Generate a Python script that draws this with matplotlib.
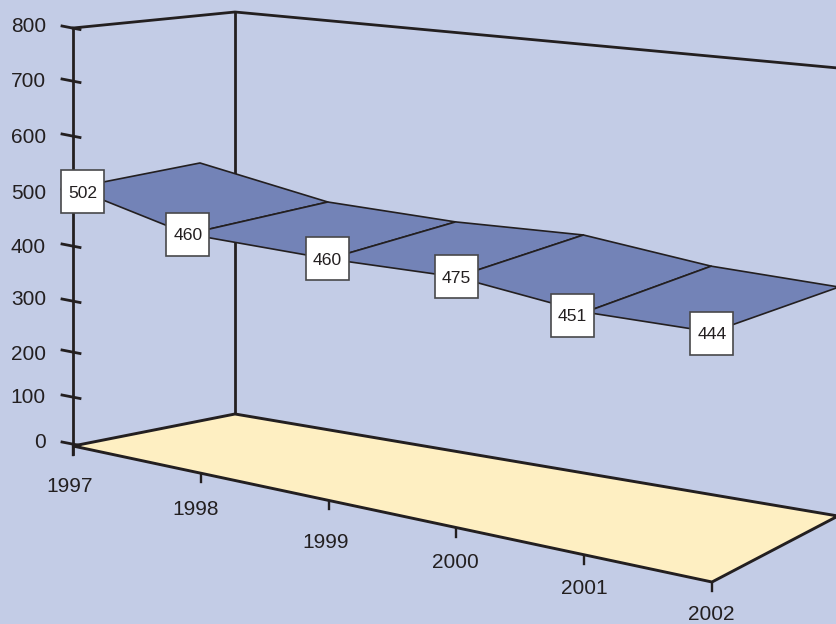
import numpy as np
import matplotlib
matplotlib.use('Agg')
import matplotlib.pyplot as plt
from matplotlib.patches import Polygon, Rectangle

years = ['1997', '1998', '1999', '2000', '2001', '2002']
values = [502, 460, 460, 475, 451, 444]
value_ticks = [0, 100, 200, 300, 400, 500, 600, 700, 800]

# chart geometry in pixels (y grows downwards)
left_x, right_x = 73, 712
floor_left_y, floor_right_y = 446, 582
back_left = (235, 414)
back_right = (838, 516)
wall_top_left = (235, 12)
wall_top_right = (838, 68)
axis_top_y = 28

tick_y = [444, 397, 352, 301, 246, 191, 136, 81, 28]
tick_label_y = [442.5, 397.5, 354.5, 299.5, 247.5, 193.5, 137.5, 81.5, 26.5]
year_label_pos = [(70, 486.5), (196, 509.5), (326, 542.5), (455, 562.5), (584, 588.5), (711, 615)]

# pixels per unit for each year, and how the ribbon sits in depth
unit_px = [0.514, 0.520, 0.525, 0.5276, 0.538, 0.563]
x_nudge = [0, -13, 0, 0, 1, 0]
ribbon_dx = 127
ribbon_rise = [25, 32, 37, 42, 46, 45]
label_offset = [(9.5, 4), (0, 0), (-1, 0), (0, 0), (-13, 3), (0, 1)]

bg = '#C3CCE6'
ribbon_col = '#7383B7'
floor_col = '#FEEFC2'
ink = '#231F20'

plt.rcParams['font.family'] = ['Liberation Sans', 'DejaVu Sans']

fig = plt.figure(figsize=(8.37, 6.24), dpi=100, facecolor=bg)
ax = fig.add_axes([0, 0, 1, 1])
ax.set_xlim(0, 837)
ax.set_ylim(624, 0)
ax.axis('off')

tick_x = np.linspace(left_x, right_x, len(years))
floor_y = np.linspace(floor_left_y, floor_right_y, len(years))

front_x = tick_x + np.array(x_nudge)
front_y = floor_y - np.array(values) * np.array(unit_px)
rear_x = tick_x + ribbon_dx
rear_y = front_y - np.array(ribbon_rise)

# back wall
ax.plot([back_left[0], wall_top_left[0]], [back_left[1], wall_top_left[1]], color=ink, lw=2.0, zorder=1)
ax.plot([left_x, wall_top_left[0], wall_top_right[0]], [axis_top_y, wall_top_left[1], wall_top_right[1]],
        color=ink, lw=2.0, zorder=1)

# floor
floor = Polygon([(left_x, floor_left_y), back_left, back_right, (right_x, floor_right_y)],
                closed=True, facecolor=floor_col, edgecolor=ink, lw=2.1, joinstyle='miter', zorder=2)
ax.add_patch(floor)

# value axis
ax.plot([left_x, left_x], [axis_top_y, 454], color=ink, lw=2.0, zorder=3)
for y in tick_y:
    ax.plot([62, 80], [y - 2, y + 1.5], color=ink, lw=2.0, zorder=3)
for v, y in zip(value_ticks, tick_label_y):
    ax.text(46, y, str(v), ha='right', va='center', fontsize=15, color=ink)

# year ticks and labels
for x, y, name, pos in zip(tick_x, floor_y, years, year_label_pos):
    ax.plot([x, x], [y, y + 9], color=ink, lw=1.7, zorder=1.5)
    ax.text(pos[0], pos[1], name, ha='center', va='center', fontsize=15, color=ink)

# ribbon, one segment per pair of years
for i in range(len(years) - 1):
    quad = [(front_x[i], front_y[i]), (rear_x[i], rear_y[i]),
            (rear_x[i + 1], rear_y[i + 1]), (front_x[i + 1], front_y[i + 1])]
    ax.add_patch(Polygon(quad, closed=True, facecolor=ribbon_col, edgecolor=ink, lw=1.2,
                         joinstyle='round', zorder=4))

# value boxes
for x, y, v, off in zip(front_x, front_y, values, label_offset):
    cx, cy = x + off[0], y + off[1]
    ax.add_patch(Rectangle((cx - 21.5, cy - 21.5), 43, 43, facecolor='white', edgecolor='#48484A',
                           lw=1.2, zorder=5))
    ax.text(cx, cy + 1.5, str(v), ha='center', va='center', fontsize=12.6, color=ink, zorder=6)

fig.savefig('out.png', dpi=100, facecolor=bg)
